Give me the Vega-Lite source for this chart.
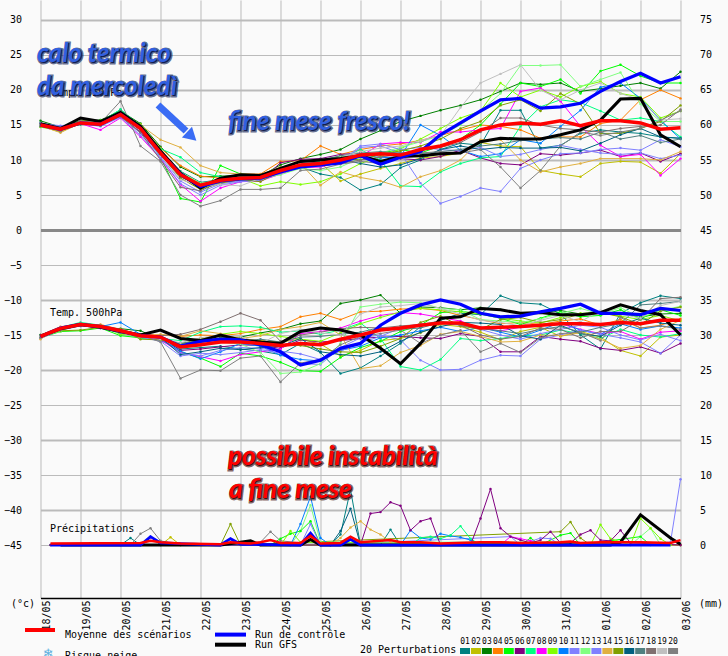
{"$schema":"https://vega.github.io/schema/vega-lite/v6.json","width":640,"height":598,"autosize":{"type":"none"},"padding":{"left":40.5,"top":0,"right":47.5,"bottom":58},"background":"#fafafa",
"config":{"view":{"stroke":null},"axis":{"labelFont":"DejaVu Sans Mono","labelFontSize":10,"labelColor":"#000000","title":null,"ticks":false,"domain":false},"text":{"font":"DejaVu Sans Mono","fontSize":10,"align":"left","baseline":"middle"}},
"datasets":{
"t850":[
{"t":"2021-05-18 00:00","p1":15.2,"p2":14.8,"p3":15.6,"p4":15,"p5":15.1,"p6":14.9,"p7":15.3,"p8":15,"p9":14.7,"p10":15,"p11":15.2,"p12":15.1,"p13":15.3,"p14":14.9,"p15":15,"p16":15.1,"p17":14.8,"p18":15.2,"p19":15,"p20":14.9,"control":15,"gfs":15.2,"mean":15},
{"t":"2021-05-18 12:00","p1":14.6,"p2":14,"p3":14.7,"p4":14.3,"p5":14.5,"p6":14.2,"p7":14.6,"p8":14.5,"p9":14.2,"p10":14.4,"p11":14.9,"p12":14.3,"p13":14.7,"p14":13.9,"p15":14.4,"p16":14.5,"p17":14.2,"p18":14.6,"p19":14.3,"p20":14.1,"control":14.4,"gfs":14.5,"mean":14.4},
{"t":"2021-05-19 00:00","p1":15.5,"p2":15.2,"p3":15.6,"p4":15.4,"p5":15.1,"p6":15.3,"p7":15.5,"p8":15.2,"p9":15.6,"p10":15.4,"p11":15.2,"p12":15.5,"p13":15.3,"p14":15.3,"p15":15.6,"p16":15.1,"p17":15.4,"p18":15.2,"p19":15.5,"p20":15.6,"control":15.3,"gfs":16,"mean":15.3},
{"t":"2021-05-19 12:00","p1":15.4,"p2":14.9,"p3":15.7,"p4":15.3,"p5":15.6,"p6":15,"p7":15.5,"p8":14.3,"p9":15.6,"p10":15.2,"p11":14.8,"p12":15.4,"p13":15,"p14":15.1,"p15":15.5,"p16":15.3,"p17":14.9,"p18":15.2,"p19":15.4,"p20":15.3,"control":15.1,"gfs":15.5,"mean":15.1},
{"t":"2021-05-20 00:00","p1":17.2,"p2":16.4,"p3":17,"p4":16.6,"p5":16.9,"p6":16.2,"p7":17.2,"p8":16,"p9":16.5,"p10":16.7,"p11":16.1,"p12":16.8,"p13":16.3,"p14":16.6,"p15":16.9,"p16":16.4,"p17":17,"p18":16.2,"p19":16.8,"p20":18.4,"control":16.5,"gfs":16.8,"mean":16.5},
{"t":"2021-05-20 12:00","p1":14.8,"p2":15,"p3":15.2,"p4":14.9,"p5":14.6,"p6":14,"p7":14.9,"p8":13.3,"p9":15.1,"p10":14.3,"p11":13.5,"p12":14.7,"p13":13.8,"p14":15,"p15":14.2,"p16":14.5,"p17":14.9,"p18":13.9,"p19":14.4,"p20":12,"control":14.5,"gfs":14.8,"mean":14.5},
{"t":"2021-05-21 00:00","p1":11.3,"p2":11.5,"p3":11.9,"p4":11.7,"p5":10.4,"p6":10.7,"p7":11.6,"p8":10.2,"p9":11.4,"p10":11,"p11":10.3,"p12":11.1,"p13":10.5,"p14":12.9,"p15":10.8,"p16":11,"p17":11.2,"p18":10,"p19":10.6,"p20":9.8,"control":11,"gfs":11.3,"mean":11},
{"t":"2021-05-21 12:00","p1":8.4,"p2":8.2,"p3":9,"p4":9.2,"p5":4.5,"p6":7.6,"p7":10.4,"p8":6.5,"p9":8.1,"p10":7.8,"p11":6.6,"p12":8.3,"p13":7,"p14":11.8,"p15":7.4,"p16":7.7,"p17":8,"p18":6.1,"p19":7.2,"p20":5,"control":8,"gfs":8.1,"mean":7.9},
{"t":"2021-05-22 00:00","p1":6.8,"p2":6.6,"p3":7.6,"p4":7.7,"p5":4,"p6":6.2,"p7":8.2,"p8":4.1,"p9":6.5,"p10":6,"p11":5,"p12":6.7,"p13":5.4,"p14":9.2,"p15":5.8,"p16":6.1,"p17":6.4,"p18":5.6,"p19":6.3,"p20":3.4,"control":6.2,"gfs":6,"mean":6.4},
{"t":"2021-05-22 12:00","p1":7.2,"p2":7,"p3":7.7,"p4":7.4,"p5":9.2,"p6":6.8,"p7":7.6,"p8":6,"p9":7,"p10":6.9,"p11":6.4,"p12":7.1,"p13":6.6,"p14":8.2,"p15":6.7,"p16":7.2,"p17":7.4,"p18":6.9,"p19":6.5,"p20":4.2,"control":7,"gfs":7.4,"mean":7.1},
{"t":"2021-05-23 00:00","p1":7.5,"p2":7.3,"p3":7.8,"p4":8,"p5":8,"p6":7.1,"p7":7.6,"p8":6.9,"p9":7.4,"p10":7.3,"p11":6.9,"p12":7.6,"p13":7,"p14":8,"p15":7.2,"p16":7.5,"p17":7.6,"p18":7.3,"p19":6.3,"p20":5.8,"control":7.3,"gfs":7.9,"mean":7.4},
{"t":"2021-05-23 12:00","p1":7.4,"p2":7.6,"p3":7.7,"p4":8,"p5":7.8,"p6":7,"p7":7.5,"p8":7,"p9":6.3,"p10":7.7,"p11":7.1,"p12":7.3,"p13":7.2,"p14":7.9,"p15":6.9,"p16":7.4,"p17":7.6,"p18":7.2,"p19":7.4,"p20":5.8,"control":7.4,"gfs":7.8,"mean":7.5},
{"t":"2021-05-24 00:00","p1":8.2,"p2":8.5,"p3":9.3,"p4":9.8,"p5":8.7,"p6":9.6,"p7":8.8,"p8":8,"p9":6.9,"p10":8.6,"p11":8.3,"p12":7.9,"p13":8.1,"p14":9,"p15":8.4,"p16":8.7,"p17":8.9,"p18":8.2,"p19":8.6,"p20":6,"control":8.3,"gfs":8.8,"mean":8.5},
{"t":"2021-05-24 12:00","p1":9,"p2":9.4,"p3":10.2,"p4":9.9,"p5":9.6,"p6":10.1,"p7":9.5,"p8":8.9,"p9":6.5,"p10":9.2,"p11":9,"p12":8.8,"p13":9.1,"p14":9.5,"p15":9.3,"p16":9.7,"p17":9.4,"p18":9,"p19":9.6,"p20":8.5,"control":9,"gfs":9.8,"mean":9.3},
{"t":"2021-05-25 00:00","p1":8,"p2":9.6,"p3":10.8,"p4":12,"p5":10,"p6":10.2,"p7":9.7,"p8":9,"p9":6.9,"p10":9.4,"p11":9.1,"p12":8.5,"p13":9.3,"p14":6.4,"p15":9.8,"p16":9.6,"p17":10,"p18":9.2,"p19":9.9,"p20":8.7,"control":9.3,"gfs":10,"mean":9.5},
{"t":"2021-05-25 12:00","p1":7.5,"p2":7,"p3":11.5,"p4":10.8,"p5":10.5,"p6":10.8,"p7":10.2,"p8":9.7,"p9":8,"p10":10,"p11":9.6,"p12":9,"p13":9.8,"p14":8.3,"p15":10.3,"p16":10.1,"p17":10.6,"p18":9.5,"p19":10.4,"p20":9.4,"control":9.6,"gfs":10.2,"mean":10},
{"t":"2021-05-26 00:00","p1":5.7,"p2":8,"p3":13,"p4":11.5,"p5":10.5,"p6":11,"p7":11.5,"p8":10.5,"p9":9.5,"p10":10.8,"p11":11.8,"p12":10.3,"p13":12,"p14":7.5,"p15":10,"p16":9.5,"p17":11,"p18":10,"p19":11.2,"p20":9.8,"control":10.6,"gfs":10.6,"mean":10.7},
{"t":"2021-05-26 12:00","p1":6.5,"p2":8.8,"p3":14.2,"p4":12,"p5":11,"p6":10.5,"p7":10,"p8":12.3,"p9":10.5,"p10":10.3,"p11":12,"p12":11,"p13":12.3,"p14":7,"p15":10.8,"p16":9,"p17":11.2,"p18":10.4,"p19":11.7,"p20":9.5,"control":9.4,"gfs":9.8,"mean":10.9},
{"t":"2021-05-27 00:00","p1":8.9,"p2":9.5,"p3":15.5,"p4":12.3,"p5":11.5,"p6":10.2,"p7":6.3,"p8":12.5,"p9":11.6,"p10":10.5,"p11":11,"p12":11.8,"p13":11.5,"p14":6.1,"p15":11.3,"p16":9.3,"p17":11,"p18":10.9,"p19":12,"p20":10.3,"control":10.4,"gfs":10.5,"mean":10.7},
{"t":"2021-05-27 12:00","p1":10,"p2":10.3,"p3":16.3,"p4":12.8,"p5":11,"p6":10,"p7":6.2,"p8":12.5,"p9":13,"p10":15,"p11":6.7,"p12":12.6,"p13":11.8,"p14":7.6,"p15":12,"p16":10.2,"p17":10.9,"p18":11.4,"p19":12.8,"p20":11,"control":11.2,"gfs":10.6,"mean":11.5},
{"t":"2021-05-28 00:00","p1":11.5,"p2":10.5,"p3":17.1,"p4":13.5,"p5":12,"p6":10.5,"p7":8.3,"p8":14,"p9":14.5,"p10":13.5,"p11":3.8,"p12":13.5,"p13":11.5,"p14":8.5,"p15":13,"p16":11.5,"p17":11.2,"p18":11.8,"p19":13.5,"p20":11.2,"control":13.6,"gfs":10.9,"mean":12},
{"t":"2021-05-28 12:00","p1":12.4,"p2":11,"p3":17.8,"p4":14.3,"p5":13,"p6":11.4,"p7":9.5,"p8":14,"p9":16,"p10":11.4,"p11":4.8,"p12":15,"p13":11.3,"p14":10,"p15":14.5,"p16":12,"p17":11.5,"p18":12.5,"p19":17.5,"p20":11,"control":15.3,"gfs":11,"mean":12.9},
{"t":"2021-05-29 00:00","p1":12.1,"p2":12.5,"p3":18.6,"p4":15,"p5":15,"p6":10.3,"p7":10.3,"p8":14.3,"p9":17,"p10":10.5,"p11":6,"p12":17,"p13":11.8,"p14":12.9,"p15":15.5,"p16":11.5,"p17":12,"p18":14,"p19":21,"p20":11.5,"control":17,"gfs":12.6,"mean":14.3},
{"t":"2021-05-29 12:00","p1":17.1,"p2":12,"p3":19.8,"p4":14.8,"p5":18,"p6":9.5,"p7":10.5,"p8":14.5,"p9":21,"p10":10.9,"p11":5.5,"p12":19.5,"p13":10.5,"p14":12.9,"p15":17.8,"p16":11.8,"p17":12.3,"p18":16,"p19":22.3,"p20":9,"control":18.6,"gfs":13.1,"mean":15},
{"t":"2021-05-30 00:00","p1":17.1,"p2":11.9,"p3":21,"p4":14.3,"p5":21,"p6":9.3,"p7":14.8,"p8":19.8,"p9":19,"p10":12.9,"p11":8.8,"p12":23.5,"p13":10.8,"p14":10,"p15":18.6,"p16":11.7,"p17":12.8,"p18":16,"p19":23.6,"p20":6,"control":18.8,"gfs":13,"mean":15.3},
{"t":"2021-05-30 12:00","p1":11.7,"p2":8.5,"p3":20.8,"p4":13.1,"p5":20.5,"p6":10.9,"p7":17.6,"p8":20.3,"p9":20,"p10":12.4,"p11":10,"p12":23.5,"p13":11.5,"p14":8.3,"p15":17,"p16":11.7,"p17":13,"p18":15,"p19":20,"p20":8.5,"control":17.4,"gfs":13,"mean":15.1},
{"t":"2021-05-31 00:00","p1":12.1,"p2":8,"p3":21,"p4":13.3,"p5":21.5,"p6":10.7,"p7":18.6,"p8":18.4,"p9":19,"p10":14.8,"p11":10.9,"p12":23.6,"p13":12.1,"p14":9,"p15":19.5,"p16":11.8,"p17":13.2,"p18":14.5,"p19":18.6,"p20":12,"control":17.6,"gfs":13.6,"mean":15.6},
{"t":"2021-05-31 12:00","p1":13.8,"p2":7.6,"p3":19.8,"p4":13.3,"p5":19.5,"p6":11,"p7":18.2,"p8":14.8,"p9":20.5,"p10":17.1,"p11":11,"p12":20.5,"p13":11.5,"p14":9.5,"p15":18,"p16":11.3,"p17":13,"p18":14.3,"p19":20,"p20":14,"control":18.1,"gfs":14.3,"mean":14.9},
{"t":"2021-06-01 00:00","p1":14.3,"p2":9.5,"p3":20.2,"p4":15.2,"p5":22.7,"p6":11.4,"p7":17,"p8":12.1,"p9":21.2,"p10":20.4,"p11":11.5,"p12":21.5,"p13":11,"p14":10.2,"p15":13.8,"p16":12.4,"p17":14,"p18":14,"p19":21,"p20":13.5,"control":19.8,"gfs":15.7,"mean":15.6},
{"t":"2021-06-01 12:00","p1":14,"p2":9.8,"p3":20.6,"p4":15.7,"p5":23.6,"p6":10.5,"p7":15.7,"p8":10.5,"p9":19.5,"p10":21,"p11":11.7,"p12":22.5,"p13":10.8,"p14":10.2,"p15":13.8,"p16":13.6,"p17":13,"p18":14.5,"p19":19.5,"p20":14,"control":21.2,"gfs":18.7,"mean":15.6},
{"t":"2021-06-02 00:00","p1":13.8,"p2":9.7,"p3":21,"p4":18.6,"p5":22,"p6":11,"p7":16,"p8":10.8,"p9":19,"p10":18.8,"p11":11.4,"p12":18,"p13":11,"p14":10.2,"p15":14.5,"p16":14.5,"p17":13.5,"p18":14.8,"p19":18.6,"p20":14.5,"control":22.4,"gfs":18.8,"mean":15.3},
{"t":"2021-06-02 12:00","p1":13.3,"p2":8.1,"p3":20.2,"p4":20,"p5":21,"p6":9.8,"p7":15.5,"p8":7.8,"p9":16,"p10":15.7,"p11":12.9,"p12":15.5,"p13":10.2,"p14":10,"p15":15.5,"p16":13.3,"p17":12.5,"p18":15,"p19":15.7,"p20":15.7,"control":21,"gfs":13.6,"mean":14.4},
{"t":"2021-06-03 00:00","p1":13.1,"p2":10.9,"p3":22.6,"p4":18.8,"p5":21,"p6":10.9,"p7":13.3,"p8":10.2,"p9":17,"p10":13,"p11":11.9,"p12":15.5,"p13":10.7,"p14":11.2,"p15":17.8,"p16":13.1,"p17":13,"p18":17.2,"p19":15.9,"p20":17,"control":21.9,"gfs":11.9,"mean":14.6}
],
"t500":[
{"t":"2021-05-18 00:00","p1":-15.1,"p2":-15.3,"p3":-15.2,"p4":-15,"p5":-15.4,"p6":-15.2,"p7":-15.1,"p8":-15.3,"p9":-15,"p10":-15.2,"p11":-15.5,"p12":-15.1,"p13":-15.3,"p14":-15.6,"p15":-15.2,"p16":-15,"p17":-15.3,"p18":-15.1,"p19":-15.2,"p20":-15.4,"control":-15.2,"gfs":-15.2,"mean":-15.2},
{"t":"2021-05-18 12:00","p1":-14,"p2":-14.3,"p3":-14.2,"p4":-13.8,"p5":-14.5,"p6":-14.1,"p7":-13.9,"p8":-14.2,"p9":-14,"p10":-14.1,"p11":-14.3,"p12":-14.5,"p13":-14,"p14":-13.9,"p15":-14.4,"p16":-14.1,"p17":-14,"p18":-14.2,"p19":-13.9,"p20":-14.3,"control":-14,"gfs":-14.1,"mean":-14.05},
{"t":"2021-05-19 00:00","p1":-13.3,"p2":-13.6,"p3":-13.5,"p4":-13.6,"p5":-14.4,"p6":-13.4,"p7":-13.2,"p8":-13.6,"p9":-13.4,"p10":-13.5,"p11":-13.7,"p12":-13.3,"p13":-13.6,"p14":-13.4,"p15":-14.3,"p16":-13.5,"p17":-13.3,"p18":-13.6,"p19":-13.4,"p20":-13.7,"control":-13.5,"gfs":-13.5,"mean":-13.5},
{"t":"2021-05-19 12:00","p1":-13.7,"p2":-13.9,"p3":-13.9,"p4":-13.5,"p5":-14,"p6":-13.8,"p7":-13.6,"p8":-14,"p9":-13.7,"p10":-13.8,"p11":-14,"p12":-13.7,"p13":-13.9,"p14":-13.6,"p15":-13.9,"p16":-13.7,"p17":-13.8,"p18":-14,"p19":-13.8,"p20":-13.6,"control":-13.8,"gfs":-13.9,"mean":-13.8},
{"t":"2021-05-20 00:00","p1":-14.5,"p2":-14.3,"p3":-14.1,"p4":-14.2,"p5":-15.1,"p6":-14.4,"p7":-14.6,"p8":-14.5,"p9":-14.9,"p10":-13.2,"p11":-14.7,"p12":-14.3,"p13":-14.4,"p14":-14.6,"p15":-14.2,"p16":-14.5,"p17":-14.3,"p18":-14.6,"p19":-14.4,"p20":-14.7,"control":-14.4,"gfs":-14.5,"mean":-14.4},
{"t":"2021-05-20 12:00","p1":-15,"p2":-15.3,"p3":-14.4,"p4":-14.9,"p5":-15.4,"p6":-15.1,"p7":-15.5,"p8":-15.2,"p9":-15,"p10":-14.9,"p11":-15.3,"p12":-15,"p13":-15.2,"p14":-15.4,"p15":-15.6,"p16":-15.1,"p17":-15,"p18":-15.3,"p19":-15.2,"p20":-15,"control":-15.1,"gfs":-15,"mean":-15.1},
{"t":"2021-05-21 00:00","p1":-15.8,"p2":-15.4,"p3":-15.6,"p4":-15,"p5":-15.6,"p6":-15.2,"p7":-15.5,"p8":-15.7,"p9":-15.3,"p10":-15.6,"p11":-15.9,"p12":-15.2,"p13":-15.4,"p14":-14.9,"p15":-15.7,"p16":-15.3,"p17":-15.5,"p18":-15.1,"p19":-15.6,"p20":-16,"control":-15.3,"gfs":-14.3,"mean":-15.3},
{"t":"2021-05-21 12:00","p1":-17,"p2":-16.5,"p3":-16.2,"p4":-15.2,"p5":-17.4,"p6":-17.2,"p7":-15.8,"p8":-17.5,"p9":-16.4,"p10":-17.3,"p11":-18,"p12":-16.8,"p13":-17.6,"p14":-15.2,"p15":-16.3,"p16":-17.8,"p17":-16.2,"p18":-14.9,"p19":-16.1,"p20":-21.2,"control":-16.6,"gfs":-15.5,"mean":-16.7},
{"t":"2021-05-22 00:00","p1":-16.8,"p2":-16.1,"p3":-15.9,"p4":-15,"p5":-18.3,"p6":-17,"p7":-14.6,"p8":-18.1,"p9":-15.7,"p10":-18.4,"p11":-17.6,"p12":-16.5,"p13":-18,"p14":-14.4,"p15":-15.5,"p16":-17.4,"p17":-15.8,"p18":-14.2,"p19":-15.4,"p20":-20,"control":-15.9,"gfs":-15.8,"mean":-16.4},
{"t":"2021-05-22 12:00","p1":-16.6,"p2":-15.5,"p3":-15.4,"p4":-15.1,"p5":-19.5,"p6":-16.7,"p7":-13.8,"p8":-18.7,"p9":-14.9,"p10":-17.4,"p11":-17.8,"p12":-16,"p13":-17.2,"p14":-14.8,"p15":-15.2,"p16":-16.9,"p17":-15.6,"p18":-13.1,"p19":-15,"p20":-20.1,"control":-15.6,"gfs":-15,"mean":-16},
{"t":"2021-05-23 00:00","p1":-17,"p2":-15.6,"p3":-15.3,"p4":-14.8,"p5":-17.6,"p6":-16.4,"p7":-13.7,"p8":-17.8,"p9":-14.5,"p10":-16.2,"p11":-17.5,"p12":-16.3,"p13":-16.8,"p14":-15.5,"p15":-15.8,"p16":-17.1,"p17":-15.9,"p18":-11.9,"p19":-15.2,"p20":-18.3,"control":-15.7,"gfs":-15.7,"mean":-16},
{"t":"2021-05-23 12:00","p1":-17.3,"p2":-15.8,"p3":-14.7,"p4":-14.2,"p5":-18,"p6":-16.5,"p7":-13.9,"p8":-17.4,"p9":-14.8,"p10":-16.6,"p11":-17.1,"p12":-17.5,"p13":-16.9,"p14":-15.1,"p15":-16,"p16":-16.8,"p17":-15.6,"p18":-12.9,"p19":-16.2,"p20":-18,"control":-16.4,"gfs":-16,"mean":-16.2},
{"t":"2021-05-24 00:00","p1":-17.8,"p2":-16,"p3":-14.2,"p4":-13.8,"p5":-18.9,"p6":-16.9,"p7":-14.6,"p8":-17,"p9":-15.2,"p10":-17.9,"p11":-17.6,"p12":-20.5,"p13":-17.3,"p14":-14.2,"p15":-16.4,"p16":-16.6,"p17":-16,"p18":-15.9,"p19":-14.8,"p20":-21.7,"control":-17.4,"gfs":-16.2,"mean":-16.5},
{"t":"2021-05-24 12:00","p1":-16.2,"p2":-15.6,"p3":-13.4,"p4":-12.4,"p5":-20.1,"p6":-15.7,"p7":-14.4,"p8":-14.8,"p9":-15.6,"p10":-18.5,"p11":-19.1,"p12":-20.3,"p13":-17.7,"p14":-13.8,"p15":-16.5,"p16":-15.5,"p17":-15.3,"p18":-15,"p19":-14.2,"p20":-19,"control":-19.3,"gfs":-14.5,"mean":-16.2},
{"t":"2021-05-25 00:00","p1":-17.5,"p2":-16.3,"p3":-13,"p4":-11.9,"p5":-20.2,"p6":-16,"p7":-14.9,"p8":-14.5,"p9":-15.9,"p10":-18.7,"p11":-19.2,"p12":-19.1,"p13":-18.5,"p14":-13.2,"p15":-17,"p16":-17.4,"p17":-15.2,"p18":-14.6,"p19":-14.7,"p20":-18.5,"control":-18.6,"gfs":-14,"mean":-16.4},
{"t":"2021-05-25 12:00","p1":-20.5,"p2":-18,"p3":-10.5,"p4":-12.8,"p5":-18.2,"p6":-15.8,"p7":-14.3,"p8":-14,"p9":-14.7,"p10":-17.2,"p11":-16.8,"p12":-16.2,"p13":-17.3,"p14":-15,"p15":-17.4,"p16":-17.8,"p17":-14.9,"p18":-14.1,"p19":-15,"p20":-16.4,"control":-16.9,"gfs":-14.3,"mean":-15.6},
{"t":"2021-05-26 00:00","p1":-19.7,"p2":-17.2,"p3":-10,"p4":-11.7,"p5":-16.8,"p6":-15.5,"p7":-13.3,"p8":-13,"p9":-13.4,"p10":-16.6,"p11":-15.4,"p12":-11,"p13":-16.1,"p14":-19.8,"p15":-17.5,"p16":-18,"p17":-14.6,"p18":-13.9,"p19":-12,"p20":-15.2,"control":-16.2,"gfs":-15,"mean":-15},
{"t":"2021-05-26 12:00","p1":-18,"p2":-15.8,"p3":-9.3,"p4":-11.6,"p5":-15.9,"p6":-15.3,"p7":-15.5,"p8":-12.2,"p9":-12.5,"p10":-15.4,"p11":-15,"p12":-10.6,"p13":-15.2,"p14":-19.4,"p15":-16.6,"p16":-17.4,"p17":-13.9,"p18":-14,"p19":-11,"p20":-14.8,"control":-13.6,"gfs":-16.9,"mean":-14.3},
{"t":"2021-05-27 00:00","p1":-16.2,"p2":-15.5,"p3":-11.9,"p4":-11.3,"p5":-14.5,"p6":-15.2,"p7":-19.5,"p8":-11.8,"p9":-11.7,"p10":-15,"p11":-15.7,"p12":-10.3,"p13":-14,"p14":-17.5,"p15":-15.5,"p16":-15.9,"p17":-14.2,"p18":-13.7,"p19":-10.8,"p20":-14.3,"control":-11.9,"gfs":-19.1,"mean":-14},
{"t":"2021-05-27 12:00","p1":-13.8,"p2":-14.7,"p3":-11,"p4":-11.2,"p5":-13.6,"p6":-15.4,"p7":-20,"p8":-12,"p9":-11.2,"p10":-14.4,"p11":-18.6,"p12":-10.4,"p13":-13.4,"p14":-16.5,"p15":-13.2,"p16":-14.6,"p17":-14,"p18":-13.5,"p19":-10.5,"p20":-16.2,"control":-10.7,"gfs":-16.2,"mean":-13.6},
{"t":"2021-05-28 00:00","p1":-12.9,"p2":-13.5,"p3":-11.1,"p4":-11.5,"p5":-11.8,"p6":-15.5,"p7":-18.5,"p8":-12.5,"p9":-11.4,"p10":-13.9,"p11":-20,"p12":-11.2,"p13":-13.3,"p14":-14.9,"p15":-12.3,"p16":-13.8,"p17":-13.2,"p18":-13,"p19":-11.2,"p20":-15,"control":-10,"gfs":-12.6,"mean":-13.3},
{"t":"2021-05-28 12:00","p1":-11.9,"p2":-13.8,"p3":-11.4,"p4":-12.2,"p5":-11.6,"p6":-14.8,"p7":-15.5,"p8":-13,"p9":-11.7,"p10":-14.5,"p11":-19.9,"p12":-11.4,"p13":-13.6,"p14":-14.5,"p15":-13.7,"p16":-13.2,"p17":-13.5,"p18":-13.6,"p19":-12,"p20":-14.3,"control":-10.6,"gfs":-12.4,"mean":-13.3},
{"t":"2021-05-29 00:00","p1":-12.1,"p2":-14.6,"p3":-11.1,"p4":-12.8,"p5":-12,"p6":-15.2,"p7":-15.8,"p8":-14,"p9":-12,"p10":-13.9,"p11":-18.6,"p12":-12.8,"p13":-14.2,"p14":-15.2,"p15":-14.2,"p16":-13.3,"p17":-14.1,"p18":-15,"p19":-12.9,"p20":-17.4,"control":-11.9,"gfs":-11.2,"mean":-14},
{"t":"2021-05-29 12:00","p1":-9.4,"p2":-15.7,"p3":-11.4,"p4":-13.4,"p5":-12.6,"p6":-17.4,"p7":-15.5,"p8":-14.4,"p9":-12.6,"p10":-14.6,"p11":-17.9,"p12":-13,"p13":-15,"p14":-16,"p15":-12.8,"p16":-13.5,"p17":-14.4,"p18":-15.6,"p19":-13.2,"p20":-16.2,"control":-12.4,"gfs":-11.4,"mean":-13.9},
{"t":"2021-05-30 00:00","p1":-10.4,"p2":-14.5,"p3":-11.9,"p4":-13.2,"p5":-13.5,"p6":-17.4,"p7":-15.1,"p8":-13.9,"p9":-13,"p10":-15.3,"p11":-18,"p12":-13.2,"p13":-15.6,"p14":-15.9,"p15":-12.5,"p16":-15.1,"p17":-14.8,"p18":-15.2,"p19":-13.7,"p20":-17.5,"control":-12.3,"gfs":-11.9,"mean":-13.8},
{"t":"2021-05-30 12:00","p1":-10.6,"p2":-13.9,"p3":-11.8,"p4":-13.5,"p5":-12.6,"p6":-15.2,"p7":-15,"p8":-13.7,"p9":-13.3,"p10":-14.3,"p11":-15.6,"p12":-12.7,"p13":-14.8,"p14":-15,"p15":-13.2,"p16":-15.6,"p17":-14.2,"p18":-14,"p19":-12.9,"p20":-15.4,"control":-11.7,"gfs":-11.8,"mean":-13.6},
{"t":"2021-05-31 00:00","p1":-12,"p2":-15.2,"p3":-11.5,"p4":-13,"p5":-11.7,"p6":-15.6,"p7":-14.3,"p8":-13.4,"p9":-12.5,"p10":-13.2,"p11":-15,"p12":-11.9,"p13":-14.2,"p14":-15.1,"p15":-12.8,"p16":-13.6,"p17":-13.8,"p18":-14.2,"p19":-12.2,"p20":-14.8,"control":-11.2,"gfs":-12.1,"mean":-13.4},
{"t":"2021-05-31 12:00","p1":-15,"p2":-14.5,"p3":-12,"p4":-12.7,"p5":-12.4,"p6":-15.9,"p7":-14.8,"p8":-14.2,"p9":-11.9,"p10":-14.3,"p11":-14.3,"p12":-11.2,"p13":-13.6,"p14":-14.7,"p15":-12,"p16":-14.8,"p17":-14.6,"p18":-15.4,"p19":-13.1,"p20":-14.6,"control":-10.6,"gfs":-12.1,"mean":-13.4},
{"t":"2021-06-01 00:00","p1":-17,"p2":-15.3,"p3":-11.8,"p4":-13.6,"p5":-12.2,"p6":-16.9,"p7":-15.5,"p8":-14.8,"p9":-11.8,"p10":-14.9,"p11":-14.9,"p12":-12,"p13":-13.9,"p14":-15.6,"p15":-11.8,"p16":-15.2,"p17":-13.9,"p18":-14.5,"p19":-11.5,"p20":-15.8,"control":-11.9,"gfs":-11.8,"mean":-13.5},
{"t":"2021-06-01 12:00","p1":-11.9,"p2":-17.2,"p3":-11.9,"p4":-12.8,"p5":-11.4,"p6":-17.2,"p7":-14.2,"p8":-14.5,"p9":-12.3,"p10":-13.4,"p11":-15.4,"p12":-11.1,"p13":-15,"p14":-16.9,"p15":-12.4,"p16":-13.6,"p17":-13.4,"p18":-14.5,"p19":-12,"p20":-12.5,"control":-11.9,"gfs":-10.7,"mean":-13.2},
{"t":"2021-06-02 00:00","p1":-10.4,"p2":-18,"p3":-12.4,"p4":-14,"p5":-12.7,"p6":-16.7,"p7":-15,"p8":-15.6,"p9":-12.8,"p10":-14.2,"p11":-16,"p12":-12.5,"p13":-15.7,"p14":-16.5,"p15":-13.5,"p16":-12.6,"p17":-10.7,"p18":-12.8,"p19":-12.6,"p20":-14,"control":-12.1,"gfs":-11.5,"mean":-13.4},
{"t":"2021-06-02 12:00","p1":-9.4,"p2":-15.3,"p3":-12,"p4":-13.6,"p5":-11.4,"p6":-17.6,"p7":-15.3,"p8":-14.6,"p9":-12.2,"p10":-13.7,"p11":-17.6,"p12":-11.5,"p13":-14.9,"p14":-14.2,"p15":-11.6,"p16":-13.3,"p17":-10.5,"p18":-9.8,"p19":-10.8,"p20":-13.7,"control":-11.2,"gfs":-12.1,"mean":-12.9},
{"t":"2021-06-03 00:00","p1":-9.8,"p2":-15,"p3":-11.9,"p4":-12.7,"p5":-12.2,"p6":-16.2,"p7":-14.8,"p8":-14.4,"p9":-13,"p10":-14,"p11":-15,"p12":-10.9,"p13":-15.8,"p14":-12.9,"p15":-11,"p16":-13.6,"p17":-10.2,"p18":-9.6,"p19":-10.2,"p20":-14.2,"control":-11.5,"gfs":-15,"mean":-12.9}
],
"precip":[
{"s":"p1","t":"2021-05-18 06:00","v":0},{"s":"p1","t":"2021-05-20 00:00","v":0},{"s":"p1","t":"2021-05-20 06:00","v":1},{"s":"p1","t":"2021-05-20 12:00","v":0},{"s":"p1","t":"2021-05-25 06:00","v":0},{"s":"p1","t":"2021-05-25 12:00","v":1.5},{"s":"p1","t":"2021-05-25 18:00","v":7.9},{"s":"p1","t":"2021-05-26 00:00","v":0},{"s":"p1","t":"2021-05-26 12:00","v":0},{"s":"p1","t":"2021-05-26 18:00","v":2.2},{"s":"p1","t":"2021-05-27 00:00","v":0},{"s":"p1","t":"2021-06-03 00:00","v":0},
{"s":"p16","t":"2021-05-25 06:00","v":0},{"s":"p16","t":"2021-05-25 12:00","v":2},{"s":"p16","t":"2021-05-25 18:00","v":5.2},{"s":"p16","t":"2021-05-26 00:00","v":0},{"s":"p16","t":"2021-06-03 00:00","v":0},
{"s":"p2","t":"2021-05-21 00:00","v":0},{"s":"p2","t":"2021-05-21 06:00","v":1.1},{"s":"p2","t":"2021-05-21 12:00","v":0},{"s":"p2","t":"2021-05-23 12:00","v":0},{"s":"p2","t":"2021-05-26 18:00","v":0},{"s":"p2","t":"2021-06-03 00:00","v":0},
{"s":"p15","t":"2021-05-22 12:00","v":0},{"s":"p15","t":"2021-05-22 18:00","v":3},{"s":"p15","t":"2021-05-23 00:00","v":0},{"s":"p15","t":"2021-05-31 00:00","v":1.9},{"s":"p15","t":"2021-05-31 06:00","v":3.3},{"s":"p15","t":"2021-05-31 12:00","v":1},{"s":"p15","t":"2021-05-31 18:00","v":0},{"s":"p15","t":"2021-06-03 00:00","v":0},
{"s":"p20","t":"2021-05-20 06:00","v":0},{"s":"p20","t":"2021-05-20 12:00","v":1.6},{"s":"p20","t":"2021-05-20 18:00","v":2.4},{"s":"p20","t":"2021-05-21 00:00","v":0.6},{"s":"p20","t":"2021-05-21 12:00","v":0},{"s":"p20","t":"2021-05-23 12:00","v":0.4},{"s":"p20","t":"2021-05-23 18:00","v":1.9},{"s":"p20","t":"2021-05-24 00:00","v":0.6},{"s":"p20","t":"2021-05-24 12:00","v":0.3},{"s":"p20","t":"2021-05-28 18:00","v":0.3},{"s":"p20","t":"2021-06-03 00:00","v":0},
{"s":"p14","t":"2021-05-25 06:00","v":0},{"s":"p14","t":"2021-05-25 12:00","v":1},{"s":"p14","t":"2021-05-25 18:00","v":2.5},{"s":"p14","t":"2021-05-26 00:00","v":3.4},{"s":"p14","t":"2021-05-26 06:00","v":2.2},{"s":"p14","t":"2021-05-26 12:00","v":1.5},{"s":"p14","t":"2021-05-26 18:00","v":0.4},{"s":"p14","t":"2021-06-03 00:00","v":0},
{"s":"p12","t":"2021-05-24 06:00","v":0},{"s":"p12","t":"2021-05-24 12:00","v":2},{"s":"p12","t":"2021-05-24 18:00","v":5.7},{"s":"p12","t":"2021-05-25 00:00","v":0.4},{"s":"p12","t":"2021-05-31 00:00","v":0.4},{"s":"p12","t":"2021-06-01 18:00","v":0},{"s":"p12","t":"2021-06-02 00:00","v":1.2},{"s":"p12","t":"2021-06-02 06:00","v":2.4},{"s":"p12","t":"2021-06-02 12:00","v":0},
{"s":"p5","t":"2021-05-23 18:00","v":0},{"s":"p5","t":"2021-05-24 00:00","v":0.9},{"s":"p5","t":"2021-05-24 06:00","v":1.6},{"s":"p5","t":"2021-05-24 12:00","v":2},{"s":"p5","t":"2021-05-24 18:00","v":3.4},{"s":"p5","t":"2021-05-25 00:00","v":0},{"s":"p5","t":"2021-05-30 00:00","v":0},{"s":"p5","t":"2021-05-30 06:00","v":1},{"s":"p5","t":"2021-05-30 12:00","v":0},{"s":"p5","t":"2021-05-31 00:00","v":1.4},{"s":"p5","t":"2021-05-31 06:00","v":1.7},{"s":"p5","t":"2021-05-31 12:00","v":0},{"s":"p5","t":"2021-06-02 00:00","v":1.2},{"s":"p5","t":"2021-06-02 06:00","v":0},
{"s":"p11","t":"2021-05-24 12:00","v":0},{"s":"p11","t":"2021-05-24 18:00","v":3},{"s":"p11","t":"2021-05-25 00:00","v":0},{"s":"p11","t":"2021-05-29 18:00","v":1.2},{"s":"p11","t":"2021-05-30 00:00","v":0},{"s":"p11","t":"2021-05-30 12:00","v":1},{"s":"p11","t":"2021-05-30 18:00","v":0.9},{"s":"p11","t":"2021-05-31 00:00","v":0},{"s":"p11","t":"2021-06-02 18:00","v":0.4},{"s":"p11","t":"2021-06-03 00:00","v":9.4},
{"s":"p10","t":"2021-05-20 12:00","v":0},{"s":"p10","t":"2021-05-20 18:00","v":1.2},{"s":"p10","t":"2021-05-21 00:00","v":0},{"s":"p10","t":"2021-05-24 06:00","v":0},{"s":"p10","t":"2021-05-24 12:00","v":3},{"s":"p10","t":"2021-05-24 18:00","v":6.9},{"s":"p10","t":"2021-05-25 00:00","v":1},{"s":"p10","t":"2021-05-25 06:00","v":0},{"s":"p10","t":"2021-05-27 00:00","v":0},{"s":"p10","t":"2021-05-27 06:00","v":2.1},{"s":"p10","t":"2021-05-27 12:00","v":1},{"s":"p10","t":"2021-05-27 18:00","v":0.8},{"s":"p10","t":"2021-05-28 00:00","v":1.6},{"s":"p10","t":"2021-05-28 06:00","v":1.3},{"s":"p10","t":"2021-05-28 12:00","v":1.1},{"s":"p10","t":"2021-05-28 18:00","v":0.7},{"s":"p10","t":"2021-05-29 00:00","v":0},
{"s":"p7","t":"2021-05-27 06:00","v":0},{"s":"p7","t":"2021-05-27 12:00","v":1},{"s":"p7","t":"2021-05-27 18:00","v":1.2},{"s":"p7","t":"2021-05-28 00:00","v":0.9},{"s":"p7","t":"2021-05-28 06:00","v":1.4},{"s":"p7","t":"2021-05-28 12:00","v":2.7},{"s":"p7","t":"2021-05-28 18:00","v":0.9},{"s":"p7","t":"2021-05-29 00:00","v":0},
{"s":"p9","t":"2021-05-24 00:00","v":0},{"s":"p9","t":"2021-05-24 06:00","v":2},{"s":"p9","t":"2021-05-24 12:00","v":0.4},{"s":"p9","t":"2021-05-31 18:00","v":0},{"s":"p9","t":"2021-06-01 00:00","v":2.9},{"s":"p9","t":"2021-06-01 06:00","v":0.9},{"s":"p9","t":"2021-06-01 18:00","v":0},{"s":"p9","t":"2021-06-02 00:00","v":3.8},{"s":"p9","t":"2021-06-02 06:00","v":2.4},{"s":"p9","t":"2021-06-02 12:00","v":0.9},{"s":"p9","t":"2021-06-02 18:00","v":0},
{"s":"p8","t":"2021-05-29 12:00","v":0},{"s":"p8","t":"2021-05-29 18:00","v":1.2},{"s":"p8","t":"2021-05-30 00:00","v":0.9},{"s":"p8","t":"2021-05-30 06:00","v":0.6},{"s":"p8","t":"2021-05-30 12:00","v":0},
{"s":"p6","t":"2021-05-18 06:00","v":0},{"s":"p6","t":"2021-05-26 00:00","v":0},{"s":"p6","t":"2021-05-26 06:00","v":4.5},{"s":"p6","t":"2021-05-26 12:00","v":4.7},{"s":"p6","t":"2021-05-26 18:00","v":6.1},{"s":"p6","t":"2021-05-27 00:00","v":5.6},{"s":"p6","t":"2021-05-27 06:00","v":2.1},{"s":"p6","t":"2021-05-27 12:00","v":3.4},{"s":"p6","t":"2021-05-27 18:00","v":3.8},{"s":"p6","t":"2021-05-28 00:00","v":0},{"s":"p6","t":"2021-05-28 18:00","v":0},{"s":"p6","t":"2021-05-29 00:00","v":3.8},{"s":"p6","t":"2021-05-29 06:00","v":8},{"s":"p6","t":"2021-05-29 12:00","v":2.4},{"s":"p6","t":"2021-05-29 18:00","v":1.2},{"s":"p6","t":"2021-05-30 00:00","v":0.7},{"s":"p6","t":"2021-05-30 06:00","v":0.3},{"s":"p6","t":"2021-05-30 12:00","v":0.7},{"s":"p6","t":"2021-05-30 18:00","v":1.9},{"s":"p6","t":"2021-05-31 00:00","v":0.3},{"s":"p6","t":"2021-05-31 06:00","v":0.3},{"s":"p6","t":"2021-05-31 12:00","v":1.5},{"s":"p6","t":"2021-05-31 18:00","v":2.1},{"s":"p6","t":"2021-06-01 00:00","v":0.7},{"s":"p6","t":"2021-06-01 06:00","v":0.6},{"s":"p6","t":"2021-06-01 12:00","v":2.1},{"s":"p6","t":"2021-06-01 18:00","v":0.3},{"s":"p6","t":"2021-06-03 00:00","v":0},
{"s":"gfs","t":"2021-05-18 12:00","v":0},{"s":"gfs","t":"2021-05-22 12:00","v":0},{"s":"gfs","t":"2021-05-23 00:00","v":0.4},{"s":"gfs","t":"2021-05-23 06:00","v":0.6},{"s":"gfs","t":"2021-05-23 12:00","v":0},{"s":"gfs","t":"2021-05-24 12:00","v":0},{"s":"gfs","t":"2021-05-24 18:00","v":0.8},{"s":"gfs","t":"2021-05-25 00:00","v":0},{"s":"gfs","t":"2021-06-01 06:00","v":0},{"s":"gfs","t":"2021-06-01 12:00","v":0.4},{"s":"gfs","t":"2021-06-02 00:00","v":4.3},{"s":"gfs","t":"2021-06-02 18:00","v":1},{"s":"gfs","t":"2021-06-03 00:00","v":0.1},
{"s":"control","t":"2021-05-18 06:00","v":0},{"s":"control","t":"2021-05-20 12:00","v":0},{"s":"control","t":"2021-05-20 18:00","v":1.2},{"s":"control","t":"2021-05-21 00:00","v":0.3},{"s":"control","t":"2021-05-22 12:00","v":0},{"s":"control","t":"2021-05-22 18:00","v":0.9},{"s":"control","t":"2021-05-23 00:00","v":0.1},{"s":"control","t":"2021-05-24 12:00","v":0},{"s":"control","t":"2021-05-24 18:00","v":1.7},{"s":"control","t":"2021-05-25 00:00","v":0},{"s":"control","t":"2021-05-25 12:00","v":0},{"s":"control","t":"2021-05-25 18:00","v":0.8},{"s":"control","t":"2021-05-26 00:00","v":0},{"s":"control","t":"2021-06-02 18:00","v":0},
{"s":"mean","t":"2021-05-18 06:00","v":0.2},{"s":"mean","t":"2021-05-20 12:00","v":0.3},{"s":"mean","t":"2021-05-20 18:00","v":0.6},{"s":"mean","t":"2021-05-21 00:00","v":0.4},{"s":"mean","t":"2021-05-21 12:00","v":0.2},{"s":"mean","t":"2021-05-22 12:00","v":0.1},{"s":"mean","t":"2021-05-22 18:00","v":0.4},{"s":"mean","t":"2021-05-23 00:00","v":0.3},{"s":"mean","t":"2021-05-23 06:00","v":0.2},{"s":"mean","t":"2021-05-23 12:00","v":0.4},{"s":"mean","t":"2021-05-23 18:00","v":0.7},{"s":"mean","t":"2021-05-24 00:00","v":0.3},{"s":"mean","t":"2021-05-24 12:00","v":0.3},{"s":"mean","t":"2021-05-24 18:00","v":1.3},{"s":"mean","t":"2021-05-25 00:00","v":0.2},{"s":"mean","t":"2021-05-25 12:00","v":0.3},{"s":"mean","t":"2021-05-25 18:00","v":1.2},{"s":"mean","t":"2021-05-26 00:00","v":0.4},{"s":"mean","t":"2021-05-26 18:00","v":0.7},{"s":"mean","t":"2021-05-27 00:00","v":0.4},{"s":"mean","t":"2021-05-27 12:00","v":0.4},{"s":"mean","t":"2021-05-28 00:00","v":0.2},{"s":"mean","t":"2021-05-29 00:00","v":0.4},{"s":"mean","t":"2021-05-29 12:00","v":0.4},{"s":"mean","t":"2021-05-30 00:00","v":0.3},{"s":"mean","t":"2021-05-31 00:00","v":0.4},{"s":"mean","t":"2021-05-31 06:00","v":0.5},{"s":"mean","t":"2021-05-31 12:00","v":0.3},{"s":"mean","t":"2021-06-01 00:00","v":0.4},{"s":"mean","t":"2021-06-02 00:00","v":0.4},{"s":"mean","t":"2021-06-02 18:00","v":0.3},{"s":"mean","t":"2021-06-03 00:00","v":0.7}
],
"swatches":[
{"s":"p1","n":"01","t":"2021-05-28 11:42","t2":"2021-05-28 17:42","v":-59.71,"v2":-60.57},{"s":"p2","n":"02","t":"2021-05-28 18:16","t2":"2021-05-29 00:16","v":-59.71,"v2":-60.57},{"s":"p3","n":"03","t":"2021-05-29 00:50","t2":"2021-05-29 06:50","v":-59.71,"v2":-60.57},{"s":"p4","n":"04","t":"2021-05-29 07:25","t2":"2021-05-29 13:25","v":-59.71,"v2":-60.57},{"s":"p5","n":"05","t":"2021-05-29 13:59","t2":"2021-05-29 19:59","v":-59.71,"v2":-60.57},{"s":"p6","n":"06","t":"2021-05-29 20:33","t2":"2021-05-30 02:33","v":-59.71,"v2":-60.57},{"s":"p7","n":"07","t":"2021-05-30 03:07","t2":"2021-05-30 09:07","v":-59.71,"v2":-60.57},{"s":"p8","n":"08","t":"2021-05-30 09:41","t2":"2021-05-30 15:41","v":-59.71,"v2":-60.57},{"s":"p9","n":"09","t":"2021-05-30 16:16","t2":"2021-05-30 22:16","v":-59.71,"v2":-60.57},{"s":"p10","n":"10","t":"2021-05-30 22:50","t2":"2021-05-31 04:50","v":-59.71,"v2":-60.57},{"s":"p11","n":"11","t":"2021-05-31 05:24","t2":"2021-05-31 11:24","v":-59.71,"v2":-60.57},{"s":"p12","n":"12","t":"2021-05-31 11:58","t2":"2021-05-31 17:58","v":-59.71,"v2":-60.57},{"s":"p13","n":"13","t":"2021-05-31 18:32","t2":"2021-06-01 00:32","v":-59.71,"v2":-60.57},{"s":"p14","n":"14","t":"2021-06-01 01:07","t2":"2021-06-01 07:07","v":-59.71,"v2":-60.57},{"s":"p15","n":"15","t":"2021-06-01 07:41","t2":"2021-06-01 13:41","v":-59.71,"v2":-60.57},{"s":"p16","n":"16","t":"2021-06-01 14:15","t2":"2021-06-01 20:15","v":-59.71,"v2":-60.57},{"s":"p17","n":"17","t":"2021-06-01 20:49","t2":"2021-06-02 02:49","v":-59.71,"v2":-60.57},{"s":"p18","n":"18","t":"2021-06-02 03:23","t2":"2021-06-02 09:23","v":-59.71,"v2":-60.57},{"s":"p19","n":"19","t":"2021-06-02 09:58","t2":"2021-06-02 15:58","v":-59.71,"v2":-60.57},{"s":"p20","n":"20","t":"2021-06-02 16:32","t2":"2021-06-02 22:32","v":-59.71,"v2":-60.57}
],
"keys":[
{"s":"mean","t":"2021-05-17 14:42","t2":"2021-05-18 08:42","v":-57.14},{"s":"control","t":"2021-05-22 08:42","t2":"2021-05-23 03:18","v":-57.8},{"s":"gfs","t":"2021-05-22 08:42","t2":"2021-05-23 03:18","v":-59.24}
],
"labels":[
{"label":"Temp. 850hPa","t":"2021-05-18 05:42","v":19.57},{"label":"Temp. 500hPa","t":"2021-05-18 05:42","v":-11.86},{"label":"Précipitations","t":"2021-05-18 05:42","v":-42.71},{"label":"(°c)","t":"2021-05-17 06:18","v":-53.43},{"label":"(mm)","t":"2021-06-03 11:06","v":-53.43},{"label":"Moyenne des scénarios","t":"2021-05-18 14:42","v":-57.86},{"label":"Run de contrôle","t":"2021-05-23 08:42","v":-57.86},{"label":"Run GFS","t":"2021-05-23 08:42","v":-59.29},{"label":"Risque neige","t":"2021-05-18 14:42","v":-60.86},{"label":"20 Perturbations","t":"2021-05-25 23:42","v":-60}
],
"bluenotes":[
{"label":"calo termico","t":"2021-05-17 21:54","v":25.14},{"label":"da mercoledì","t":"2021-05-17 21:54","v":20.43},{"label":"fine mese fresco!","t":"2021-05-22 16:30","v":15.43}
],
"rednotes":[
{"label":"possibile instabilità","t":"2021-05-22 16:30","v":-32.43},{"label":"a fine mese","t":"2021-05-22 17:06","v":-37.14}
],
"arrow":[
{"t":"2021-05-20 22:30","t2":"2021-05-21 15:20","v":17.86,"v2":14.14}
],
"arrowhead":[
{"t":"2021-05-21 17:45","v":13.57}
],
"snow":[
{"label":"❄","t":"2021-05-18 04:30","v":-60.6}
]
},
"encoding":{"x":{"field":"t","type":"temporal","title":null,"scale":{"domain":["2021-05-18 00:00","2021-06-03 00:00"]},"axis":{"format":"%d/%m","tickCount":{"interval":"day","step":1},"labelAngle":-90,"labelAlign":"right","labelBaseline":"top","labelOffset":1,"labelPadding":2,"labelOverlap":false,"labelBound":false,"labelFlush":false,"grid":true,"gridColor":"#bbbbbb","gridWidth":1,"domain":true,"domainColor":"#000000","domainWidth":1.5}}},
"layer":[
{"encoding":{"y":{"field":"v","type":"quantitative","scale":{"domain":[-52.571,32.857],"nice":false,"zero":false},"axis":{"values":[30,25,20,15,10,5,0,-5,-10,-15,-20,-25,-30,-35,-40,-45],"format":"d","labelPadding":19,"grid":true,"gridWidth":{"condition":[{"test":"datum.value===0","value":3},{"test":"datum.value%10===0","value":2}],"value":1},"gridColor":{"condition":{"test":"datum.value===0","value":"#888888"},"value":"#bbbbbb"}}},
"color":{"field":"s","type":"nominal","legend":null,"scale":{"domain":["p1","p2","p3","p4","p5","p6","p7","p8","p9","p10","p11","p12","p13","p14","p15","p16","p17","p18","p19","p20","control","gfs","mean"],"range":["#008080","#c0c000","#008000","#ff8000","#00ff00","#800080","#00ff80","#ff00ff","#80ff00","#0080ff","#8080ff","#80ff80","#8080ff","#e0b040","#80a000","#006080","#508080","#807070","#c0c0c0","#808080","#0000ff","#000000","#ff0000"]}}},
"layer":[
{"data":{"name":"t850"},"transform":[{"fold":["p1","p2","p3","p4","p5","p6","p7","p8","p9","p10","p11","p12","p13","p14","p15","p16","p17","p18","p19","p20"],"as":["s","v"]}],"mark":{"type":"line","strokeWidth":1,"point":{"filled":true,"size":6}}},
{"data":{"name":"t850"},"transform":[{"fold":["gfs","control","mean"],"as":["s","v"]}],"mark":{"type":"line"},"encoding":{"strokeWidth":{"field":"s","type":"nominal","legend":null,"scale":{"domain":["gfs","control","mean"],"range":[3,3.5,4.5]}}}},
{"data":{"name":"t500"},"transform":[{"fold":["p1","p2","p3","p4","p5","p6","p7","p8","p9","p10","p11","p12","p13","p14","p15","p16","p17","p18","p19","p20"],"as":["s","v"]}],"mark":{"type":"line","strokeWidth":1,"point":{"filled":true,"size":6}}},
{"data":{"name":"t500"},"transform":[{"fold":["gfs","control","mean"],"as":["s","v"]}],"mark":{"type":"line"},"encoding":{"strokeWidth":{"field":"s","type":"nominal","legend":null,"scale":{"domain":["gfs","control","mean"],"range":[3,3.5,4.5]}}}},
{"data":{"name":"keys"},"mark":{"type":"rule","strokeWidth":4},"encoding":{"x2":{"field":"t2"}}},
{"data":{"name":"swatches"},"mark":{"type":"rect"},"encoding":{"x2":{"field":"t2"},"y2":{"field":"v2"}}},
{"data":{"name":"swatches"},"mark":{"type":"text","fontSize":8,"align":"center","dx":5,"dy":-6},"encoding":{"text":{"field":"n"},"color":{"value":"#000000"}}},
{"data":{"name":"labels"},"mark":{"type":"text"},"encoding":{"text":{"field":"label"},"color":{"value":"#000000"}}}
]},
{"data":{"name":"precip"},"encoding":{"y":{"field":"v","type":"quantitative","scale":{"domain":[-7.571,77.857],"nice":false,"zero":false},"axis":{"orient":"right","values":[0,5,10,15,20,25,30,35,40,45,50,55,60,65,70,75],"format":"d","labelPadding":19,"grid":false}},
"color":{"field":"s","type":"nominal","legend":null,"scale":{"domain":["p1","p2","p3","p4","p5","p6","p7","p8","p9","p10","p11","p12","p13","p14","p15","p16","p17","p18","p19","p20","control","gfs","mean"],"range":["#008080","#c0c000","#008000","#ff8000","#00ff00","#800080","#00ff80","#ff00ff","#80ff00","#0080ff","#8080ff","#80ff80","#8080ff","#e0b040","#80a000","#006080","#508080","#807070","#c0c0c0","#808080","#0000ff","#000000","#ff0000"]}}},
"layer":[
{"transform":[{"filter":"indexof(['gfs','control','mean'],datum.s)<0"}],"mark":{"type":"line","strokeWidth":1,"point":{"filled":true,"size":6}}},
{"transform":[{"filter":"indexof(['gfs','control','mean'],datum.s)>=0"}],"mark":{"type":"line"},"encoding":{"strokeWidth":{"field":"s","type":"nominal","legend":null,"scale":{"domain":["gfs","control","mean"],"range":[3,2.5,4]}}}}
]},
{"encoding":{"y":{"field":"v","type":"quantitative","axis":null,"scale":{"domain":[-52.571,32.857],"nice":false,"zero":false}}},
"layer":[
{"data":{"name":"bluenotes"},"mark":{"type":"text","font":"Lato","fontWeight":"bold","fontStyle":"italic","fontSize":26,"color":"#101c50","stroke":"#101c50","strokeWidth":3,"strokeOpacity":0.65,"dx":1,"dy":1},"encoding":{"text":{"field":"label"}}},
{"data":{"name":"bluenotes"},"mark":{"type":"text","font":"Lato","fontWeight":"bold","fontStyle":"italic","fontSize":26,"color":"#3060e0"},"encoding":{"text":{"field":"label"}}},
{"data":{"name":"rednotes"},"mark":{"type":"text","font":"Lato","fontWeight":"bold","fontStyle":"italic","fontSize":26,"color":"#401010","stroke":"#401010","strokeWidth":3,"strokeOpacity":0.65,"dx":1,"dy":1},"encoding":{"text":{"field":"label"}}},
{"data":{"name":"rednotes"},"mark":{"type":"text","font":"Lato","fontWeight":"bold","fontStyle":"italic","fontSize":26,"color":"#ff0000"},"encoding":{"text":{"field":"label"}}},
{"data":{"name":"arrow"},"mark":{"type":"rule","strokeWidth":7,"color":"#3a6cf4"},"encoding":{"x2":{"field":"t2"},"y2":{"field":"v2"}}},
{"data":{"name":"arrowhead"},"mark":{"type":"point","shape":"triangle","filled":true,"opacity":1,"size":220,"angle":133,"color":"#3a6cf4"}},
{"data":{"name":"snow"},"mark":{"type":"text","font":"DejaVu Sans","fontSize":13,"color":"#60b0e0","align":"center"},"encoding":{"text":{"field":"label"}}}
]}
],
"resolve":{"scale":{"y":"independent","strokeWidth":"independent"}}
}
